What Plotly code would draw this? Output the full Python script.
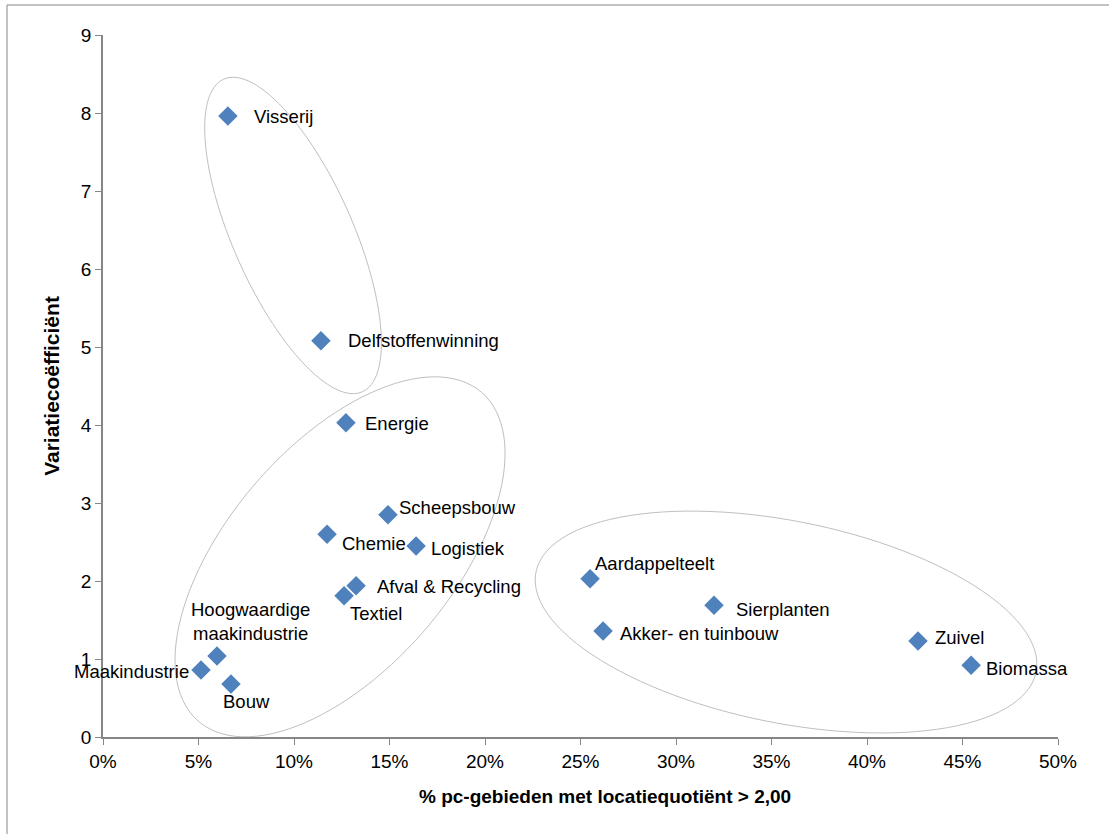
import numpy as np
import plotly.graph_objects as go

# Sector data: share of postcode areas with location quotient > 2.00, and coefficient of variation
sectors = [
    "Visserij", "Delfstoffenwinning", "Energie", "Scheepsbouw", "Chemie",
    "Logistiek", "Afval & Recycling", "Textiel", "Hoogwaardige<br>maakindustrie",
    "Maakindustrie", "Bouw", "Aardappelteelt", "Sierplanten",
    "Akker- en tuinbouw", "Zuivel", "Biomassa",
]
share_pc = [0.0654, 0.1141, 0.1272, 0.1492, 0.1173, 0.1639, 0.1325, 0.1262,
            0.0597, 0.0513, 0.0670, 0.2550, 0.3199, 0.2618, 0.4267, 0.4545]
variation = [7.96, 5.08, 4.03, 2.85, 2.60, 2.45, 1.94, 1.81,
             1.04, 0.86, 0.68, 2.03, 1.69, 1.36, 1.23, 0.92]

x_ticks = [i * 0.05 for i in range(11)]
y_ticks = list(range(10))

x_title = "<b>% pc-gebieden met locatiequotiënt &gt; 2,00</b>"
y_title = "<b>Variatiecoëfficiënt</b>"

# Label placement (anchor, x shift px, y shift px)
label_pos = [
    ("left", 24, 0), ("left", 25, 0), ("left", 17, -1), ("left", 9, 7),
    ("left", 13, -9), ("left", 13, -3), ("left", 19, -1), ("left", 4, -18),
    ("center", 33, 34), ("right", -10, -2), ("left", -10, -18),
    ("left", 3, 15), ("left", 20, -4), ("left", 15, -3), ("left", 15, 4),
    ("left", 13, -3),
]

# Plot area geometry (pixels)
W, H = 1109, 834
M_L, M_R, M_T, M_B = 103, 51, 35, 97
plot_w = W - M_L - M_R
plot_h = H - M_T - M_B
x_rng = (0, 0.5)
y_rng = (0, 9)
px_x = plot_w / (x_rng[1] - x_rng[0])
px_y = plot_h / (y_rng[1] - y_rng[0])

# Cluster outlines: centre (data units), semi-axes (px), rotation (deg)
clusters = [
    ((0.0995, 6.43), 171, 60, 113.9),
    ((0.1241, 2.31), 217, 112, 49.3),
    ((0.3576, 1.474), 255, 101, -11.3),
]


def ellipse_path(center, a, b, ang_deg, n=120):
    cx, cy = center
    phi = np.radians(ang_deg)
    t = np.linspace(0, 2 * np.pi, n)
    dx = a * np.cos(t) * np.cos(phi) - b * np.sin(t) * np.sin(phi)
    dy = a * np.cos(t) * np.sin(phi) + b * np.sin(t) * np.cos(phi)
    xs = cx + dx / px_x
    ys = cy + dy / px_y
    pts = [f"{x:.5f},{y:.5f}" for x, y in zip(xs, ys)]
    return "M " + " L ".join(pts) + " Z"


FONT = "Arial, Liberation Sans, sans-serif"
AXIS_GREY = "#868686"

fig = go.Figure()
fig.add_trace(go.Scatter(
    x=share_pc, y=variation, mode="markers",
    marker=dict(symbol="diamond", size=15, color="#4F81BD",
                line=dict(width=0)),
    hoverinfo="skip", showlegend=False,
))

shapes = []
for center, a, b, ang in clusters:
    shapes.append(dict(type="path", xref="x", yref="y",
                       path=ellipse_path(center, a, b, ang),
                       line=dict(color="#BFBFBF", width=1),
                       fillcolor="rgba(0,0,0,0)", layer="below"))

# Outer frame of the chart area
shapes.append(dict(type="rect", xref="paper", yref="paper",
                   x0=(7 - M_L) / plot_w, x1=1.2,
                   y0=-0.3, y1=(H - M_B - 5) / plot_h,
                   line=dict(color=AXIS_GREY, width=1), layer="below"))

annotations = []
for name, xv, yv, (anc, dx, dy) in zip(sectors, share_pc, variation, label_pos):
    annotations.append(dict(
        x=xv, y=yv, text=name, showarrow=False,
        xanchor=anc, yanchor="middle", xshift=dx, yshift=dy,
        align="center",
        font=dict(family=FONT, size=18.5, color="#000000"),
    ))

# X axis title, placed slightly right of the plot centre
annotations.append(dict(
    xref="paper", yref="paper", x=(605 - M_L) / plot_w, y=-60 / plot_h,
    text=x_title, showarrow=False, xanchor="center", yanchor="middle",
    font=dict(family=FONT, size=19, color="#000000"),
))

fig.update_layout(
    width=W, height=H,
    margin=dict(l=M_L, r=M_R, t=M_T, b=M_B),
    paper_bgcolor="white", plot_bgcolor="white",
    shapes=shapes, annotations=annotations,
    font=dict(family=FONT, color="#000000"),
    xaxis=dict(
        range=list(x_rng), tickvals=x_ticks, tickformat=".0%",
        showgrid=False, zeroline=False,
        showline=True, linecolor=AXIS_GREY, linewidth=1.5,
        ticks="outside", ticklen=6, tickcolor=AXIS_GREY, tickwidth=1,
        tickfont=dict(size=19, family=FONT),
    ),
    yaxis=dict(
        range=list(y_rng), tickvals=y_ticks,
        showgrid=False, zeroline=False,
        showline=True, linecolor=AXIS_GREY, linewidth=1.5,
        ticks="outside", ticklen=6, tickcolor=AXIS_GREY, tickwidth=1,
        tickfont=dict(size=19, family=FONT),
        title=dict(text=y_title, font=dict(size=21, family=FONT), standoff=16),
    ),
)

fig.write_html("out.html")
